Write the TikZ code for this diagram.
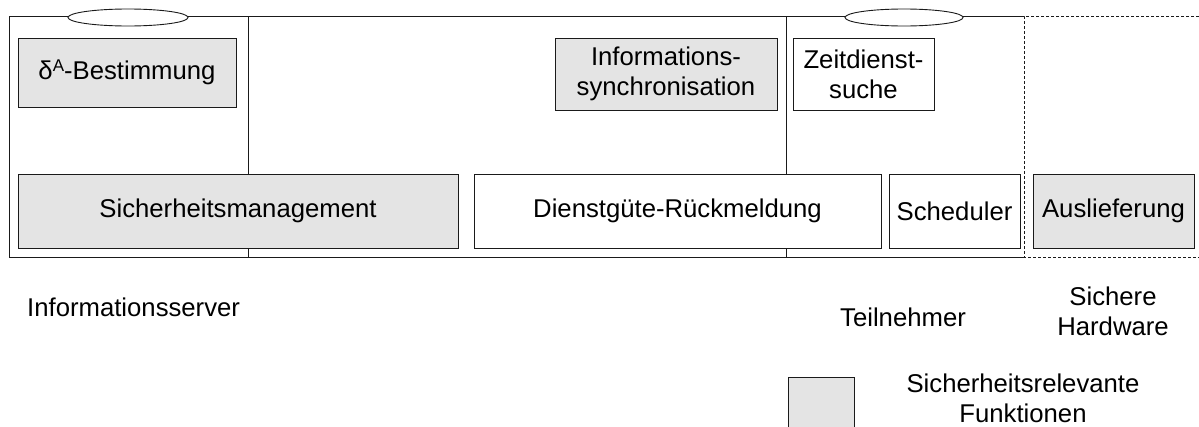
\documentclass[tikz,border=0pt]{standalone}
\usepackage{fontspec}
\setmainfont{Liberation Sans}
\definecolor{relgray}{HTML}{E4E4E4}
\definecolor{linec}{HTML}{1A1A1A}
\newcommand{\bigfont}{\fontsize{25.7}{30}\selectfont}
\tikzset{
  fbox/.style={draw=linec, line width=0.9pt, inner sep=0pt, align=center, font=\bigfont},
  relbox/.style={fbox, fill=relgray},
  plainbox/.style={fbox, fill=white},
  lbl/.style={inner sep=0pt, align=center, font=\bigfont},
  frame/.style={draw=linec, line width=0.9pt},
  dframe/.style={draw=linec, line width=0.9pt, dash pattern=on 3pt off 2pt}
}
\begin{document}
\begin{tikzpicture}[x=1pt, y=-1pt]
\useasboundingbox (0,0) rectangle (1199,426);
% frames
\draw[frame] (1024,16) -- (9,16) -- (9,257) -- (1024,257);
\draw[frame] (248,16) -- (248,257);
\draw[frame] (786,16) -- (786,257);
\draw[dframe] (1199,16) -- (1024,16) -- (1024,257) -- (1199,257);
% ellipses on top line
\draw[frame, fill=white] (128,17.5) ellipse [x radius=60, y radius=8.5];
\draw[frame, fill=white] (904,17.5) ellipse [x radius=59, y radius=8.5];
% function boxes
\node[relbox, minimum width=218, minimum height=69] (delta) at (127,72.5) {δ\raisebox{0.55ex}{\fontsize{17}{17}\selectfont A}-Bestimmung};
\node[relbox, minimum width=222, minimum height=72] (sync) at (666,74) {Informations-\\synchronisation};
\node[plainbox, minimum width=141, minimum height=72] (zeit) at (863.5,74) {Zeitdienst-\\suche};
\node[relbox, minimum width=440, minimum height=74] (sicher) at (238,211) {Sicherheitsmanagement};
\node[plainbox, minimum width=407, minimum height=74] (dienst) at (677.5,211) {Dienstgüte-Rückmeldung};
\node[plainbox, minimum width=131, minimum height=74] (sched) at (954.5,211) {Scheduler};
\node[relbox, minimum width=161, minimum height=74] (ausl) at (1113.5,211) {Auslieferung};
% labels
\node[lbl, anchor=west] (infoserver) at (27,307) {Informationsserver};
\node[lbl] (teiln) at (903,317) {Teilnehmer};
\node[lbl] (hw) at (1113,311) {Sichere\\Hardware};
% legend
\node[relbox, minimum width=66, minimum height=56, anchor=north west] (legbox) at (788,377) {};
\node[lbl] (legtext) at (1023,398) {Sicherheitsrelevante\\Funktionen};
\end{tikzpicture}
\end{document}
